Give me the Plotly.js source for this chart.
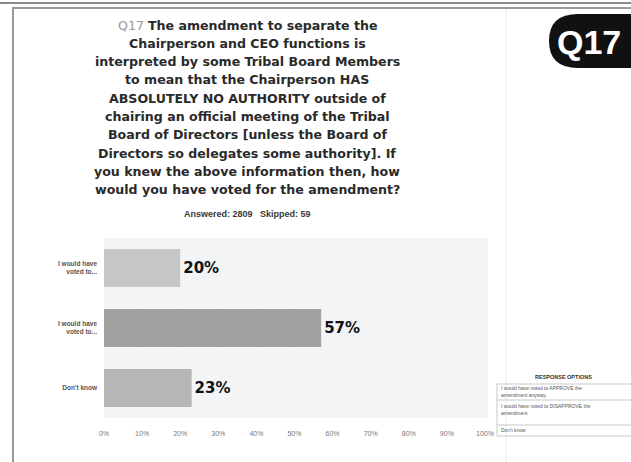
<!DOCTYPE html>
<html><head><meta charset="utf-8">
<script src="https://cdn.plot.ly/plotly-3.0.1.min.js"></script>
<style>html,body{margin:0;padding:0;background:#fff}#chart{width:631px;height:462px}</style>
</head><body><div id="chart"></div>
<script>
// Data
const categories = ["I would have voted to APPROVE the amendment anyway.", "I would have voted to DISAPPROVE the amendment", "Don't know"];
const tickLabels = ["I would have<br>voted to...", "I would have<br>voted to...", "Don't know"];
const percentages = [20, 57, 23];
const barColors = ["#c6c6c6", "#a2a2a2", "#b6b6b6"];
const xTickVals = [0,10,20,30,40,50,60,70,80,90,100];
const xTickText = ["0%","10%","20%","30%","40%","50%","60%","70%","80%","90%","100%"];
const answered = 2809, skipped = 59;
const titleLines = ["The amendment to separate the", "Chairperson and CEO functions is", "interpreted by some Tribal Board Members", "to mean that the Chairperson HAS", "ABSOLUTELY NO AUTHORITY outside of", "chairing an official meeting of the Tribal", "Board of Directors [unless the Board of", "Directors so delegates some authority]. If", "you knew the above information then, how", "would you have voted for the amendment?"];
const optionRows = ["I would have voted to APPROVE the<br>amendment anyway.", "I would have voted to DISAPPROVE the<br>amendment", "Don't know"];

// pixel helpers (plot area: x 104..488, y 238..418)
const L=104, R=488, T=238, B=418;
const px = x => (x - L) / (R - L);
const py = y => (B - y) / (B - T);

const trace = {
  type: 'bar', orientation: 'h',
  y: categories, x: percentages,
  marker: {color: barColors, line: {width: 0}},
  text: percentages.map(v => v + '%'),
  textposition: 'outside', cliponaxis: false,
  textfont: {family: 'DejaVu Sans', size: 15, color: '#111', weight: 900},
  hoverinfo: 'none', width: 0.63
};

const annotations = [];
titleLines.forEach((t, i) => annotations.push({
  xref:'paper', yref:'paper', x: px(247), y: py(25 + i * 18.3), xanchor:'center', yanchor:'middle', showarrow:false,
  text: (i === 0 ? '<span style="color:#9a9a9a;font-weight:normal">Q17</span> ' : '') + '<b>' + t + '</b>',
  font: {family: 'DejaVu Sans', size: 12.6, color: '#2a2a2a'}
}));
annotations.push(
  {xref:'paper', yref:'paper', x: px(247), y: py(214), xanchor:'center', yanchor:'middle', showarrow:false,
   text: '<b>Answered: ' + answered + '   Skipped: ' + skipped + '</b>',
   font: {family: 'Liberation Sans', size: 9, color: '#3a3a3a'}},
  {xref:'paper', yref:'paper', x: px(555), y: py(42), xanchor:'left', yanchor:'middle', showarrow:false,
   text: '<b>Q17</b>', font: {family: 'Liberation Sans', size: 34, color: '#fff'}},
  {xref:'paper', yref:'paper', x: px(563), y: py(377), xanchor:'center', yanchor:'middle', showarrow:false,
   text: '<b>RESPONSE OPTIONS</b>', font: {family: 'Liberation Sans', size: 5.5, color: '#333'}}
);
const rowY = [391, 409, 430];
optionRows.forEach((t, i) => annotations.push({
  xref:'paper', yref:'paper', x: px(499), y: py(rowY[i]), xanchor:'left', yanchor:'middle', showarrow:false,
  align:'left', text: t, font: {family: 'Liberation Sans', size: 5, color: '#555'}
}));

const shapes = [
  {type:'line', xref:'paper', yref:'paper', x0: px(0), x1: px(631), y0: py(3), y1: py(3), line:{color:'#8a8a8a', width:2}},
  {type:'rect', xref:'paper', yref:'paper', x0: px(13), x1: px(640), y0: py(8), y1: py(470), line:{color:'#9a9a9a', width:2}},
  {type:'line', xref:'paper', yref:'paper', x0: px(506), x1: px(506), y0: py(9), y1: py(462), line:{color:'#ececec', width:1}},
  {type:'path', xref:'paper', yref:'paper', fillcolor:'#111', line:{width:0},
   path: 'M '+px(578)+' '+py(14)+' L '+px(640)+' '+py(14)+' L '+px(640)+' '+py(68)+' L '+px(578)+' '+py(68)+
         ' Q '+px(549)+' '+py(68)+' '+px(549)+' '+py(41)+' Q '+px(549)+' '+py(14)+' '+px(578)+' '+py(14)+' Z'},
  {type:'rect', xref:'paper', yref:'paper', x0: px(497), x1: px(640), y0: py(384), y1: py(436), line:{color:'#c8c8c8', width:1}},
  {type:'line', xref:'paper', yref:'paper', x0: px(497), x1: px(640), y0: py(400), y1: py(400), line:{color:'#c8c8c8', width:1}},
  {type:'line', xref:'paper', yref:'paper', x0: px(497), x1: px(640), y0: py(425), y1: py(425), line:{color:'#c8c8c8', width:1}}
];

const layout = {
  width: 631, height: 462,
  margin: {l: L, r: 631 - R, t: T, b: 462 - B, pad: 0},
  paper_bgcolor: '#ffffff', plot_bgcolor: '#f3f4f6',
  showlegend: false, bargap: 0.37,
  xaxis: {range: [0, 100.8], tickvals: xTickVals, ticktext: xTickText, showgrid: true, gridcolor: '#f7f7f8',
          zeroline: false, showline: false, ticks: '', ticklabelstandoff: 10,
          tickfont: {family: 'Liberation Sans', size: 7, color: '#777'}, fixedrange: true},
  yaxis: {type: 'category', autorange: 'reversed', tickvals: categories, ticktext: tickLabels,
          showgrid: false, zeroline: false, showline: false, ticks: '', ticklabelstandoff: 6,
          tickfont: {family: 'Liberation Sans', size: 6.5, color: '#555', weight: 'bold'}, fixedrange: true},
  annotations: annotations, shapes: shapes
};

Plotly.newPlot('chart', [trace], layout, {displayModeBar: false, staticPlot: true});
</script></body></html>
